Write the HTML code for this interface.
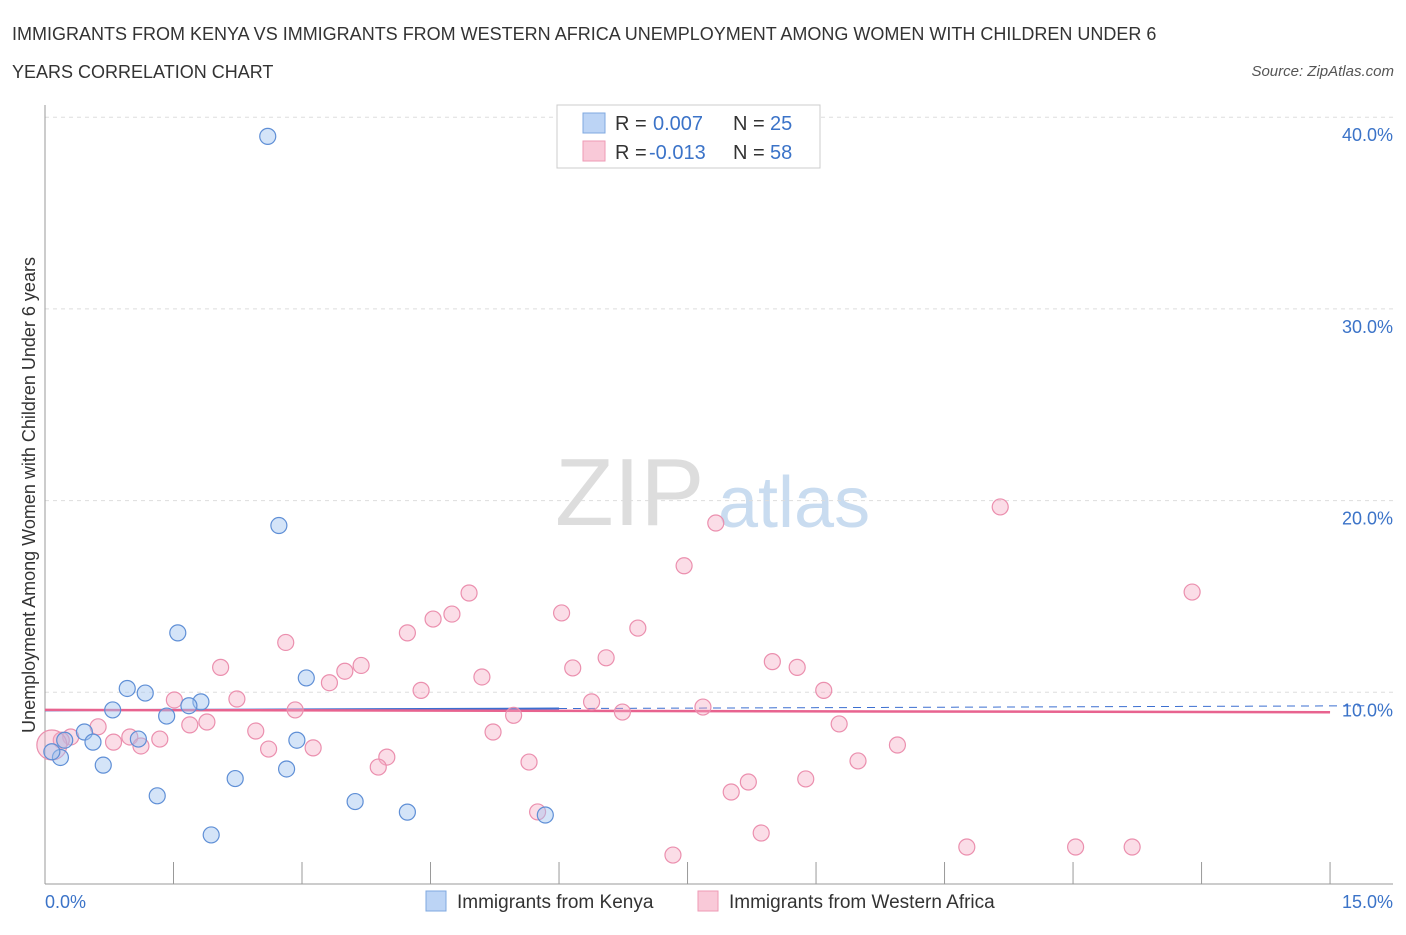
<!DOCTYPE html>
<html><head><meta charset="utf-8"><style>
body{margin:0;background:#fff;font-family:"Liberation Sans",sans-serif;}
svg text{font-family:"Liberation Sans",sans-serif;}
</style></head><body>
<svg width="1406" height="930" xmlns="http://www.w3.org/2000/svg" id="chart">
<text x="12" y="40" font-size="18" fill="#333">IMMIGRANTS FROM KENYA VS IMMIGRANTS FROM WESTERN AFRICA UNEMPLOYMENT AMONG WOMEN WITH CHILDREN UNDER 6</text>
<text x="12" y="78" font-size="18" fill="#333">YEARS CORRELATION CHART</text>
<text x="1394" y="76" font-size="15" fill="#555" font-style="italic" text-anchor="end">Source: ZipAtlas.com</text>
<text x="555" y="525" font-size="96" fill="#ddd" font-family="Liberation Serif">ZIP</text>
<text x="718" y="527" font-size="72" fill="#c9dcf0">atlas</text>
<g id="grid"></g>
<g id="axes"></g>
<g id="lines"></g>
<g id="points"></g>
<text x="35" y="495" font-size="18" fill="#333" text-anchor="middle" transform="rotate(-90 35 495)">Unemployment Among Women with Children Under 6 years</text>
<text x="45" y="908" font-size="18" fill="#3b73c8">0.0%</text>
<text x="1393" y="908" font-size="18" fill="#3b73c8" text-anchor="end">15.0%</text>
<g>
<rect x="557" y="105" width="263" height="63" fill="#fff" stroke="#ccc"/>
<rect x="583" y="113" width="22" height="20" fill="#bcd4f5" stroke="#7fa8e0"/>
<rect x="583" y="141" width="22" height="20" fill="#f9c9d8" stroke="#ee9ab5"/>
<text x="615" y="130" font-size="20" fill="#333">R = </text><text x="653" y="130" font-size="20" fill="#3b73c8">0.007</text>
<text x="733" y="130" font-size="20" fill="#333">N = </text><text x="770" y="130" font-size="20" fill="#3b73c8">25</text>
<text x="615" y="159" font-size="20" fill="#333">R = </text><text x="649" y="159" font-size="20" fill="#3b73c8">-0.013</text>
<text x="733" y="159" font-size="20" fill="#333">N = </text><text x="770" y="159" font-size="20" fill="#3b73c8">58</text>
</g>
<g>
<rect x="426" y="891" width="20" height="20" fill="#bcd4f5" stroke="#7fa8e0"/>
<text x="457" y="908" font-size="19" fill="#333">Immigrants from Kenya</text>
<rect x="698" y="891" width="20" height="20" fill="#f9c9d8" stroke="#ee9ab5"/>
<text x="729" y="908" font-size="19" fill="#333">Immigrants from Western Africa</text>
</g>
</svg>
<script>
const yTicks=[10,20,30,40];
const yTickLabels=["10.0%","20.0%","30.0%","40.0%"];
const kenyaX=[2.60,2.73,1.55,3.05,0.96,1.17,0.79,1.82,1.68,1.42,0.46,1.09,0.56,0.23,2.94,0.18,0.08,0.68,2.22,2.82,1.31,3.62,4.23,5.84,1.94];
const kenyaY=[39.0,18.7,13.1,10.75,10.2,9.96,9.08,9.5,9.3,8.76,7.93,7.56,7.4,7.5,7.5,6.6,6.9,6.2,5.5,6.0,4.6,4.3,3.75,3.6,2.56];
const waX=[11.15,7.83,7.46,13.39,4.95,6.03,4.75,4.53,6.92,4.23,2.81,6.55,8.49,2.05,3.69,6.16,8.78,3.50,5.10,3.32,4.39,9.09,1.51,2.24,6.38,7.68,2.92,5.47,6.74,1.69,1.89,0.62,9.27,2.46,5.23,0.30,0.19,0.99,1.34,0.80,1.12,9.95,2.61,3.13,0.08,3.99,5.65,9.49,3.89,8.88,8.21,8.01,5.75,8.36,10.76,12.03,12.69,7.33];
const waY=[19.67,18.83,16.6,15.23,15.18,14.14,14.08,13.82,13.35,13.1,12.6,11.8,11.6,11.3,11.4,11.27,11.3,11.1,10.8,10.5,10.1,10.1,9.6,9.65,9.5,9.23,9.08,8.8,8.97,8.3,8.45,8.2,8.35,7.98,7.93,7.67,7.5,7.67,7.56,7.4,7.2,7.25,7.04,7.1,7.25,6.62,6.36,6.42,6.1,5.48,5.32,4.8,3.76,2.66,1.93,1.93,1.93,1.51];
const kenyaTrend=[9.06,9.29];
const waTrend=[9.08,8.96];
const NS='http://www.w3.org/2000/svg';
const xs=v=>45+v*85.67, ys=v=>884-v*19.17;
function mk(tag,attrs,parent){const e=document.createElementNS(NS,tag);for(const k in attrs)e.setAttribute(k,attrs[k]);document.getElementById(parent).appendChild(e);return e;}
yTicks.forEach((t,i)=>{
 const l=mk('line',{x1:45,x2:1393,y1:ys(t),y2:ys(t),stroke:'#ddd','stroke-dasharray':'4,4'},'grid');
 
 
 const tx=mk('text',{x:1393,y:ys(t)+24,'font-size':18,fill:'#3b73c8','text-anchor':'end'},'grid');
 tx.textContent=yTickLabels[i];
 
 
});
const ax=mk('line',{x1:45,x2:1393,y1:884,y2:884,stroke:'#999'},'axes');


const ay=mk('line',{x1:45,x2:45,y1:105,y2:884,stroke:'#999'},'axes');


for(let i=0;i<=10;i++){const tk=mk('line',{x1:xs(i*1.5),x2:xs(i*1.5),y1:862,y2:884,stroke:'#999'},'axes');
 
 }
const kt=v=>kenyaTrend[0]+(kenyaTrend[1]-kenyaTrend[0])*v/15;
let l1=mk('line',{x1:xs(0),y1:ys(kt(0)),x2:xs(6),y2:ys(kt(6)),stroke:'#3b6fd0','stroke-width':2},'lines');


let l2=mk('line',{x1:xs(6),y1:ys(kt(6)),x2:xs(15.4),y2:ys(kt(15.4)),stroke:'#3b6fd0','stroke-width':1,'stroke-dasharray':'8,6'},'lines');


let l3=mk('line',{x1:xs(0),y1:ys(waTrend[0]),x2:xs(15),y2:ys(waTrend[1]),stroke:'#e8638f','stroke-width':2.5},'lines');


waX.forEach((x,i)=>{const c=mk('circle',{cx:xs(x),cy:ys(waY[i]),r:i==44?15:8,fill:'rgba(246,170,195,0.4)',stroke:'#eb8fae','stroke-width':1.2},'points');
 
 });
kenyaX.forEach((x,i)=>{const c=mk('circle',{cx:xs(x),cy:ys(kenyaY[i]),r:8,fill:'rgba(160,195,240,0.45)',stroke:'#5f8fd6','stroke-width':1.2},'points');
 
 });
</script>
</body></html>
